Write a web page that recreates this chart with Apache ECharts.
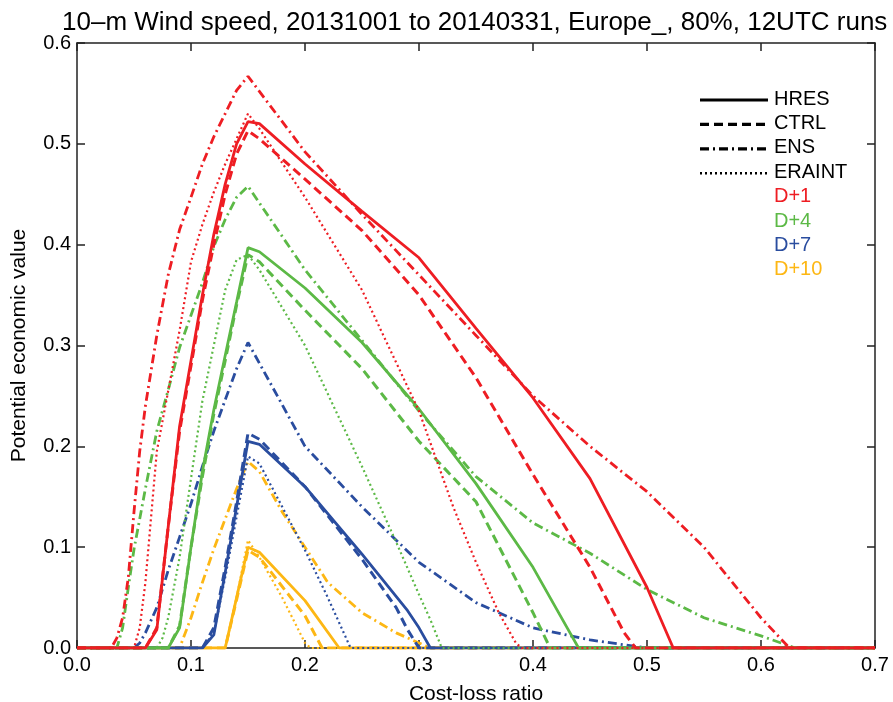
<!DOCTYPE html>
<html>
<head>
<meta charset="utf-8">
<script src="https://cdn.jsdelivr.net/npm/echarts@6/dist/echarts.min.js"></script>
<style>
  html, body { margin: 0; padding: 0; background: #fff; }
  #main { width: 893px; height: 702px; }
</style>
</head>
<body>
<div id="main"></div>
<script>
// cost-loss ratio / potential economic value pairs
var xTicks = [0.0, 0.1, 0.2, 0.3, 0.4, 0.5, 0.6, 0.7];
var yTicks = [0.0, 0.1, 0.2, 0.3, 0.4, 0.5, 0.6];

// D+1 (red)
var d1Hres = [[0,0],[0.06,0],[0.07,0.018],[0.08,0.12],[0.09,0.22],[0.10,0.285],[0.11,0.35],[0.12,0.41],[0.13,0.46],[0.14,0.50],[0.15,0.522],[0.16,0.52],[0.20,0.48],[0.25,0.433],[0.30,0.387],[0.35,0.317],[0.40,0.248],[0.45,0.168],[0.50,0.06],[0.523,0],[0.7,0]];
var d1Ctrl = [[0,0],[0.06,0],[0.07,0.02],[0.08,0.12],[0.09,0.215],[0.10,0.28],[0.11,0.345],[0.12,0.40],[0.13,0.45],[0.14,0.49],[0.15,0.513],[0.16,0.505],[0.20,0.465],[0.25,0.414],[0.30,0.35],[0.35,0.268],[0.40,0.172],[0.45,0.08],[0.48,0.015],[0.49,0],[0.7,0]];
var d1Ens = [[0,0],[0.03,0],[0.035,0.01],[0.04,0.03],[0.045,0.07],[0.05,0.135],[0.055,0.195],[0.06,0.24],[0.07,0.31],[0.08,0.37],[0.09,0.415],[0.10,0.447],[0.11,0.48],[0.12,0.507],[0.13,0.53],[0.14,0.553],[0.15,0.567],[0.20,0.492],[0.25,0.43],[0.30,0.37],[0.35,0.31],[0.40,0.25],[0.45,0.2],[0.50,0.155],[0.55,0.1],[0.60,0.03],[0.625,0],[0.7,0]];
var d1Era = [[0,0],[0.05,0],[0.055,0.02],[0.06,0.065],[0.065,0.13],[0.07,0.195],[0.08,0.255],[0.09,0.315],[0.10,0.383],[0.11,0.42],[0.12,0.452],[0.13,0.48],[0.14,0.505],[0.15,0.53],[0.16,0.515],[0.20,0.447],[0.25,0.355],[0.30,0.235],[0.33,0.14],[0.35,0.085],[0.37,0.035],[0.385,0.005],[0.39,0],[0.7,0]];

// D+4 (green)
var d4Hres = [[0,0],[0.08,0],[0.09,0.02],[0.10,0.1],[0.11,0.175],[0.12,0.236],[0.13,0.29],[0.14,0.343],[0.15,0.397],[0.16,0.393],[0.20,0.357],[0.25,0.303],[0.30,0.237],[0.35,0.163],[0.40,0.08],[0.43,0.02],[0.44,0],[0.7,0]];
var d4Ctrl = [[0,0],[0.08,0],[0.09,0.022],[0.10,0.1],[0.11,0.17],[0.12,0.232],[0.13,0.285],[0.14,0.34],[0.15,0.39],[0.16,0.383],[0.20,0.335],[0.25,0.277],[0.30,0.205],[0.35,0.145],[0.40,0.035],[0.415,0],[0.7,0]];
var d4Ens = [[0,0],[0.035,0],[0.04,0.02],[0.045,0.06],[0.05,0.098],[0.06,0.158],[0.07,0.215],[0.08,0.256],[0.09,0.298],[0.10,0.33],[0.11,0.362],[0.12,0.398],[0.13,0.425],[0.14,0.447],[0.15,0.458],[0.20,0.375],[0.25,0.305],[0.30,0.235],[0.35,0.17],[0.40,0.124],[0.45,0.094],[0.50,0.058],[0.55,0.03],[0.60,0.012],[0.63,0],[0.7,0]];
var d4Era = [[0,0],[0.07,0],[0.075,0.01],[0.08,0.03],[0.09,0.09],[0.10,0.168],[0.11,0.245],[0.12,0.3],[0.13,0.355],[0.14,0.385],[0.15,0.39],[0.16,0.375],[0.20,0.3],[0.25,0.18],[0.28,0.105],[0.30,0.053],[0.31,0.028],[0.32,0],[0.7,0]];

// D+7 (blue)
var d7Hres = [[0,0],[0.11,0],[0.12,0.013],[0.13,0.075],[0.14,0.14],[0.15,0.205],[0.16,0.202],[0.20,0.16],[0.25,0.093],[0.29,0.037],[0.30,0.02],[0.31,0],[0.7,0]];
var d7Ctrl = [[0,0],[0.11,0],[0.12,0.02],[0.13,0.08],[0.14,0.145],[0.15,0.213],[0.16,0.207],[0.20,0.16],[0.25,0.088],[0.28,0.04],[0.29,0.018],[0.30,0],[0.7,0]];
var d7Ens = [[0,0],[0.05,0],[0.055,0.005],[0.06,0.015],[0.07,0.04],[0.08,0.077],[0.09,0.11],[0.10,0.143],[0.11,0.18],[0.12,0.215],[0.13,0.246],[0.14,0.277],[0.15,0.303],[0.20,0.2],[0.25,0.14],[0.30,0.085],[0.35,0.045],[0.40,0.02],[0.45,0.008],[0.50,0],[0.7,0]];
var d7Era = [[0,0],[0.11,0],[0.12,0.015],[0.13,0.07],[0.14,0.13],[0.15,0.19],[0.16,0.183],[0.18,0.14],[0.20,0.097],[0.22,0.05],[0.23,0.025],[0.24,0],[0.7,0]];

// D+10 (yellow)
var d10Hres = [[0,0],[0.13,0],[0.14,0.05],[0.15,0.1],[0.16,0.095],[0.20,0.047],[0.23,0],[0.7,0]];
var d10Ctrl = [[0,0],[0.13,0],[0.14,0.048],[0.15,0.097],[0.16,0.09],[0.20,0.032],[0.215,0],[0.7,0]];
var d10Ens = [[0,0],[0.09,0],[0.10,0.03],[0.11,0.065],[0.12,0.098],[0.13,0.128],[0.14,0.158],[0.15,0.185],[0.16,0.175],[0.18,0.135],[0.20,0.1],[0.22,0.065],[0.25,0.035],[0.28,0.015],[0.30,0.005],[0.31,0],[0.7,0]];
var d10Era = [[0,0],[0.13,0],[0.14,0.05],[0.15,0.107],[0.16,0.09],[0.18,0.05],[0.20,0.005],[0.205,0],[0.7,0]];

var leads = ['D+1', 'D+4', 'D+7', 'D+10'];
var colors = ['#ee1d23', '#5cb946', '#2a4d9f', '#fdb714'];
var systems = ['HRES', 'CTRL', 'ENS', 'ERAINT'];
var dashes = ['solid', [9, 5], [9, 4, 2, 4], [2, 3]];
var widths = [2.8, 3, 2.8, 2.2];

var curves = [
  [d1Hres, d1Ctrl, d1Ens, d1Era],
  [d4Hres, d4Ctrl, d4Ens, d4Era],
  [d7Hres, d7Ctrl, d7Ens, d7Era],
  [d10Hres, d10Ctrl, d10Ens, d10Era]
];

var font = 'Liberation Sans, Arial, sans-serif';

var myChart = echarts.init(document.getElementById('main'), null, { renderer: 'canvas' });

// last lead first so that D+1 ends up on top
var series = [];
for (var i = leads.length - 1; i >= 0; i--) {
  for (var j = 0; j < systems.length; j++) {
    series.push({
      name: leads[i] + ' ' + systems[j],
      type: 'line',
      data: curves[i][j],
      symbol: 'none',
      silent: true,
      lineStyle: { color: colors[i], width: widths[j], type: dashes[j] }
    });
  }
}

// legend drawn by hand, the way the original figure has it
var graphics = [];
var legX = 700, legY = 100, legStep = 24.4;
for (var j = 0; j < systems.length; j++) {
  graphics.push({
    type: 'line',
    shape: { x1: legX, y1: legY + j * legStep, x2: legX + 68, y2: legY + j * legStep },
    style: { stroke: '#000', lineWidth: widths[j] + 0.4, lineDash: dashes[j] === 'solid' ? null : dashes[j] }
  });
  graphics.push({
    type: 'text', left: legX + 74, top: legY + j * legStep - 11,
    style: { text: systems[j], fill: '#000', font: '20px ' + font }
  });
}
for (var i = 0; i < leads.length; i++) {
  graphics.push({
    type: 'text', left: legX + 74, top: legY + (systems.length + i) * legStep - 11,
    style: { text: leads[i], fill: colors[i], font: '20px ' + font }
  });
}

var axisLine = { show: true, onZero: false, lineStyle: { color: '#222', width: 1.5 } };
var axisTick = { show: true, inside: true, length: 8, lineStyle: { color: '#222', width: 1.5 } };

var option = {
  animation: false,
  backgroundColor: '#fff',
  title: {
    text: '10\u2013m Wind speed, 20131001 to 20140331, Europe_, 80%, 12UTC runs',
    left: 57,
    top: 5,
    textStyle: { fontFamily: font, fontSize: 26, fontWeight: 'normal', color: '#000' }
  },
  grid: { left: 77, right: 18, top: 43, bottom: 54, containLabel: false, outerBoundsMode: 'none' },
  xAxis: [{
    type: 'value',
    position: 'bottom',
    min: 0, max: 0.7, interval: 0.1,
    name: 'Cost-loss ratio',
    nameLocation: 'middle',
    nameGap: 36,
    nameTextStyle: { fontFamily: font, fontSize: 21, color: '#000' },
    axisLine: axisLine,
    axisTick: axisTick,
    splitLine: { show: false },
    axisLabel: {
      margin: 7, fontFamily: font, fontSize: 20, color: '#000',
      formatter: function (v) { return xTicks[Math.round(v * 10)].toFixed(1); }
    }
  }, {
    type: 'value',
    position: 'top',
    min: 0, max: 0.7, interval: 0.1,
    axisLine: axisLine,
    axisTick: axisTick,
    axisLabel: { show: false },
    splitLine: { show: false }
  }],
  yAxis: [{
    type: 'value',
    position: 'left',
    min: 0, max: 0.6, interval: 0.1,
    name: 'Potential economic value',
    nameLocation: 'middle',
    nameGap: 47,
    nameTextStyle: { fontFamily: font, fontSize: 21, color: '#000' },
    axisLine: axisLine,
    axisTick: axisTick,
    splitLine: { show: false },
    axisLabel: {
      margin: 6, fontFamily: font, fontSize: 20, color: '#000',
      formatter: function (v) { return yTicks[Math.round(v * 10)].toFixed(1); }
    }
  }, {
    type: 'value',
    position: 'right',
    min: 0, max: 0.6, interval: 0.1,
    axisLine: axisLine,
    axisTick: axisTick,
    axisLabel: { show: false },
    splitLine: { show: false }
  }],
  graphic: graphics,
  series: series
};

myChart.setOption(option);
</script>
</body>
</html>
